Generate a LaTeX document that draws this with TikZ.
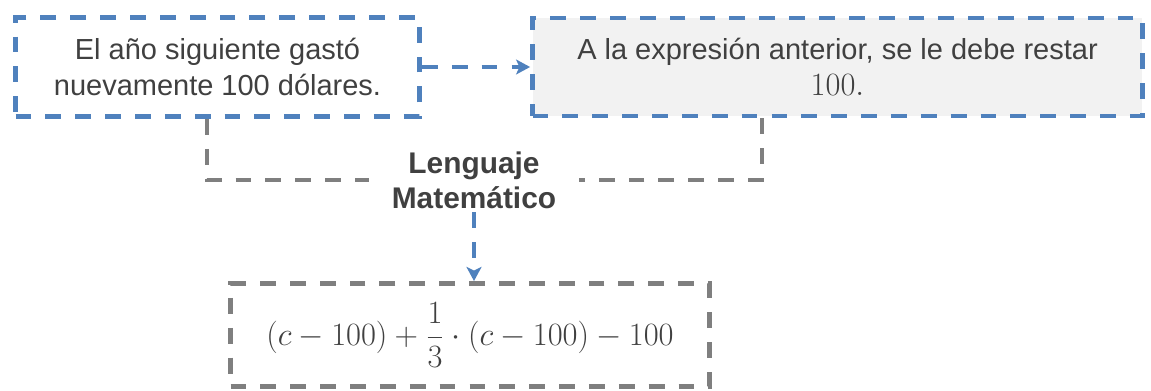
\documentclass[tikz,border=0pt]{standalone}
\usepackage{fix-cm}
\usepackage[no-math]{fontspec}
\setmainfont{Liberation Sans}
\usepackage{amsmath}
\usetikzlibrary{arrows.meta}
\definecolor{Azul}{HTML}{4F81BD}
\definecolor{Gris}{HTML}{7F7F7F}
\definecolor{Texto}{HTML}{404040}
\definecolor{Fondo}{HTML}{F2F2F2}

\begin{document}
\begin{tikzpicture}[x=0.02cm,y=-0.02cm,
    caja/.style={line width=2.8pt,dash pattern=on 9pt off 8pt,align=center,text=Texto,
      font=\fontsize{16.5}{20.5}\selectfont,inner sep=0pt},
    cajaazul/.style={caja,draw=Azul},
    cajagris/.style={caja,draw=Gris},
    enlace/.style={line width=2.8pt,dash pattern=on 9pt off 8pt},
    flecha/.style={enlace,draw=Azul,-{Stealth[length=8pt,width=8.5pt,inset=2pt]}}]
    \useasboundingbox (0,0) rectangle (1151,391);
    % cajas de texto
    \node[cajaazul,minimum width=8.08cm,minimum height=1.98cm] (anio) at (217.5,67)
      {El año siguiente gastó\\nuevamente 100 dólares.};
    \node[cajaazul,fill=Fondo,minimum width=12.2cm,minimum height=1.96cm] (resta) at (837.5,67)
      {A la expresión anterior, se le debe restar\\{\fontsize{18.5}{20}\selectfont$100.$}};
    \node[align=center,text=Texto,font=\fontsize{17}{20}\selectfont\bfseries,
      minimum width=4.2cm,inner sep=2pt] (lengua) at (474,180) {Lenguaje\\Matemático};
    \node[cajagris,minimum width=9.58cm,minimum height=2.06cm] (expr) at (470,335)
      {\fontsize{18.5}{21}\selectfont$\displaystyle (c-100)+\frac{1}{3}\cdot(c-100)-100$};
    % conectores
    \draw[flecha] (anio.east) -- (resta.west);
    \draw[enlace,draw=Gris] ([xshift=-0.21cm]anio.south) |- (lengua.west);
    \draw[enlace,draw=Gris] ([xshift=-1.51cm]resta.south) |- (lengua.east);
    \draw[flecha] (lengua.south) -- (lengua.south |- expr.north);
\end{tikzpicture}
\end{document}
